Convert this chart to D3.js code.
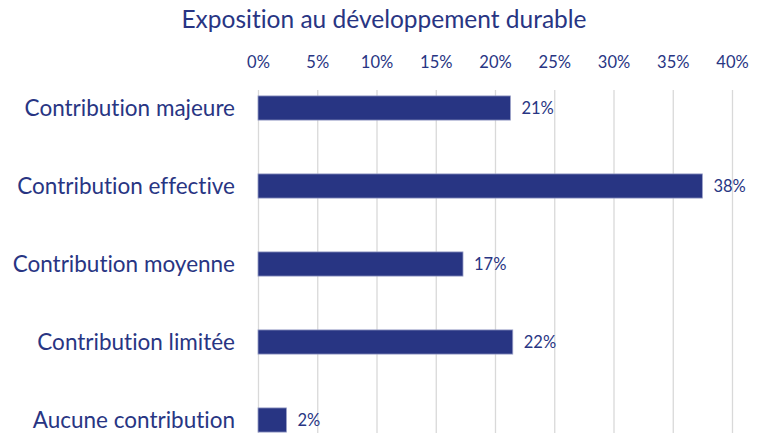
<!DOCTYPE html>
<html>
<head>
<meta charset="utf-8">
<script src="https://cdn.jsdelivr.net/npm/d3@7"></script>
<style>
  body { margin: 0; background: #fff; }
  text { font-family: Lato, "Open Sans", sans-serif; fill: #283583; font-variant-ligatures: none; }
</style>
</head>
<body>
<svg width="765" height="435"></svg>
<script>
const categories = ['Contribution majeure', 'Contribution effective', 'Contribution moyenne', 'Contribution limitée', 'Aucune contribution'];
const values = [0.213, 0.375, 0.173, 0.215, 0.024];
const ticks = [0, 0.05, 0.10, 0.15, 0.20, 0.25, 0.30, 0.35, 0.40];

const svg = d3.select('svg');
const width = +svg.attr('width');
const height = +svg.attr('height');

const data = categories.map((c, i) => ({ cat: c, val: values[i] }));

const margin = { top: 90, left: 258, right: 33 };
const innerWidth = width - margin.left - margin.right;

const xScale = d3.scaleLinear()
    .domain([0, 0.40])
    .range([0, innerWidth]);

const yScale = d3.scaleBand()
    .domain(categories)
    .range([69 - margin.top, 459 - margin.top])
    .paddingInner(0.69)
    .paddingOuter(0.345);

const g = svg.append('g')
    .attr('transform', `translate(${margin.left}, ${margin.top})`);

// gridlines + top tick labels
const xAxis = d3.axisTop(xScale)
    .tickValues(ticks)
    .tickFormat(d3.format('.0%'))
    .tickSize(-(height - margin.top - 2))
    .tickPadding(22);

const xAxisG = g.append('g').call(xAxis);
xAxisG.select('.domain').remove();
xAxisG.selectAll('line').attr('stroke', '#d9d9d9').attr('stroke-width', 1.3);
xAxisG.selectAll('text')
    .attr('font-size', 16.5)
    .style('font-family', 'Lato, sans-serif')
    .attr('fill', '#283583');

// category labels
g.selectAll('.cat').data(data)
  .enter().append('text')
    .attr('class', 'cat')
    .attr('x', -23)
    .attr('y', d => yScale(d.cat) + yScale.bandwidth() / 2)
    .attr('dy', '0.35em')
    .attr('text-anchor', 'end')
    .attr('font-size', 22.5)
    .text(d => d.cat);

// bars
g.selectAll('rect').data(data)
  .enter().append('rect')
    .attr('x', 0)
    .attr('y', d => yScale(d.cat))
    .attr('width', d => xScale(d.val))
    .attr('height', yScale.bandwidth())
    .attr('fill', '#283583')
    .attr('stroke', '#9aa0c8')
    .attr('stroke-width', 0.8);

// value labels
g.selectAll('.val').data(data)
  .enter().append('text')
    .attr('class', 'val')
    .attr('x', d => xScale(d.val) + 11)
    .attr('y', d => yScale(d.cat) + yScale.bandwidth() / 2)
    .attr('dy', '0.35em')
    .attr('font-size', 16.5)
    .text(d => d3.format('.0%')(d.val));

// title
svg.append('text')
    .attr('x', 384)
    .attr('y', 28)
    .attr('text-anchor', 'middle')
    .attr('font-size', 24.5)
    .text('Exposition au développement durable');
</script>
</body>
</html>
